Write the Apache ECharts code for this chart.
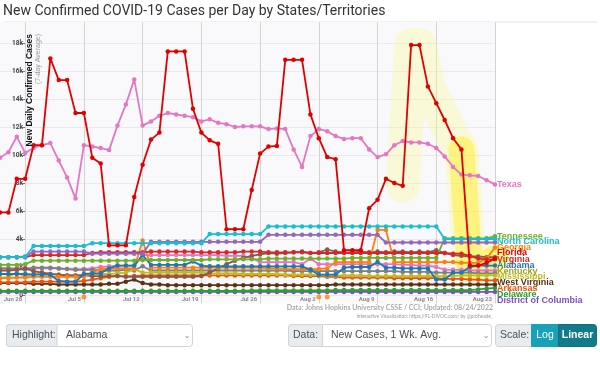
<!DOCTYPE html>
<html><head><meta charset="utf-8">
<script src="https://cdn.jsdelivr.net/npm/echarts@6/dist/echarts.min.js"></script>
<style>html,body{margin:0;padding:0;background:#fff}#c{width:600px;height:386px}</style>
</head><body><div id="c"></div>
<script>
const dates = ['Jun 25','Jun 26','Jun 27','Jun 28','Jun 29','Jun 30',
'Jul 1','Jul 2','Jul 3','Jul 4','Jul 5','Jul 6','Jul 7','Jul 8','Jul 9','Jul 10','Jul 11','Jul 12','Jul 13','Jul 14','Jul 15','Jul 16','Jul 17','Jul 18','Jul 19','Jul 20','Jul 21','Jul 22','Jul 23','Jul 24','Jul 25','Jul 26','Jul 27','Jul 28','Jul 29','Jul 30','Jul 31',
'Aug 1','Aug 2','Aug 3','Aug 4','Aug 5','Aug 6','Aug 7','Aug 8','Aug 9','Aug 10','Aug 11','Aug 12','Aug 13','Aug 14','Aug 15','Aug 16','Aug 17','Aug 18','Aug 19','Aug 20','Aug 21','Aug 22','Aug 23'];
const yTicks = [0,2,4,6,8,10,12,14,16,18];
const eventDays = ['Jul 5','Aug 2','Aug 3'];

const texas = [9.8,10.2,11.3,10.15,10.5,10.7,10.85,9.6,8.4,6.9,
 10.7,10.6,10.5,10.35,12.1,13.6,15.4,12.1,12.4,12.8,
 13.0,12.9,12.8,12.7,12.4,12.55,12.3,12.2,12.0,12.05,
 12.05,12.05,11.85,11.9,11.85,10.4,9.15,11.35,11.85,11.7,
 11.35,11.15,11.2,11.2,10.4,9.85,10.05,10.7,11.0,10.9,
 10.9,10.8,10.5,9.9,9.15,8.6,8.55,8.5,8.2,7.9];
const florida = [5.9,5.9,8.3,8.3,10.7,10.7,16.9,15.35,15.35,13.0,
 13.0,9.8,9.4,3.55,3.55,3.55,7.0,9.3,11.1,11.6,
 17.4,17.4,17.4,13.3,11.6,11.05,10.8,4.7,4.7,4.7,
 7.5,10.1,10.6,10.65,16.8,16.8,16.8,12.9,11.2,9.85,
 9.7,3.2,3.2,3.2,6.2,6.8,8.3,8.0,7.8,17.85,
 17.85,14.9,13.7,12.5,11.2,10.4,2.1,2.1,2.3,2.6];
const northCarolina = [2.7,2.7,2.7,2.7,3.5,3.5,3.5,3.5,3.5,3.5,
 3.5,3.7,3.7,3.7,3.7,3.7,3.7,3.7,3.7,3.7,
 3.7,3.7,3.7,3.7,3.7,4.35,4.35,4.35,4.35,4.35,
 4.35,4.35,4.9,4.9,4.9,4.9,4.9,4.9,4.9,4.9,
 4.9,4.9,4.9,4.9,4.9,4.9,4.9,4.9,4.9,4.9,
 4.9,4.9,4.9,4.0,4.0,4.0,4.0,4.0,4.0,4.0];
const oklahoma = [2.7,2.7,2.7,2.75,3.1,3.1,3.1,3.1,3.1,3.1,
 3.1,2.95,2.95,2.95,2.95,2.95,2.95,2.95,3.8,3.8,
 3.8,3.8,3.8,3.8,3.8,3.8,3.8,3.8,3.8,3.8,
 3.8,3.8,4.3,4.3,4.3,4.3,4.3,4.3,4.3,4.3,
 4.3,4.3,4.3,4.3,4.3,4.3,3.75,3.75,3.75,3.75,
 3.75,3.75,3.75,3.75,3.75,3.75,3.75,3.75,3.75,3.75];
const virginia = [2.7,2.7,2.7,2.7,2.85,2.85,2.85,2.85,2.85,2.85,
 2.85,3.0,3.05,3.05,3.05,3.05,3.05,3.05,3.1,3.1,
 3.1,3.1,3.1,3.1,3.05,3.05,3.05,3.05,3.05,3.1,
 3.1,3.1,3.05,3.05,3.05,3.05,3.05,3.0,3.0,3.0,
 3.0,3.0,3.0,3.0,3.0,3.0,3.0,3.0,3.0,3.0,
 3.0,3.0,3.0,3.0,2.95,2.95,2.8,2.6,2.55,2.55];
const tennessee = [2.15,2.15,2.15,2.2,2.45,2.45,2.45,2.45,2.45,2.45,
 2.45,2.45,2.45,2.45,2.45,2.45,2.45,2.5,2.5,2.5,
 2.5,2.5,2.5,2.5,2.5,2.55,2.55,2.55,2.55,2.55,
 2.55,2.55,2.6,2.6,2.6,2.6,2.6,2.6,2.6,2.6,
 2.6,2.6,2.65,2.65,2.65,2.65,2.65,2.65,2.65,2.65,
 2.65,2.65,2.65,4.05,4.05,4.05,4.05,4.05,4.05,4.2];
const alabama = [1.5,1.5,1.5,1.5,1.45,1.45,1.45,1.0,0.95,0.95,
 1.5,1.55,1.55,1.9,2.1,2.1,2.1,2.85,2.15,2.15,
 2.15,2.15,2.15,2.4,2.1,2.05,2.05,2.05,2.05,2.05,
 2.05,2.05,2.05,2.05,2.05,2.05,2.05,1.8,1.45,1.45,
 1.45,1.95,2.0,2.0,2.0,2.35,1.95,1.95,1.9,1.9,
 1.9,1.9,1.1,1.1,1.6,1.6,2.0,2.1,2.1,2.1];
const georgia = [1.2,1.2,1.25,1.25,1.3,1.3,1.3,1.3,1.3,1.3,
 1.3,1.6,1.85,1.9,1.9,1.9,1.9,3.9,1.95,1.95,
 1.95,1.95,1.95,1.95,1.95,1.95,1.95,1.95,1.95,1.95,
 1.95,1.95,1.9,1.9,1.85,1.85,1.85,1.85,1.85,1.9,
 2.35,2.35,2.35,2.35,2.35,4.65,4.65,2.35,2.35,2.35,
 2.35,2.35,2.35,2.35,2.35,2.3,2.3,2.3,2.6,3.4];
const louisiana = [1.75,1.75,1.8,1.9,1.7,1.6,1.5,1.45,1.4,1.4,
 1.4,1.35,1.35,1.35,1.35,1.3,1.3,1.3,1.3,1.3,
 1.3,1.3,1.3,1.3,1.35,1.6,1.9,2.2,2.45,2.65,
 2.8,2.9,3.0,2.95,3.0,3.05,3.1,3.0,3.05,3.25,
 3.1,3.05,3.05,3.1,3.05,3.1,3.05,3.1,3.1,3.05,
 3.1,3.05,3.2,3.0,2.85,2.8,2.75,2.75,2.7,2.7];
const mississippi = [1.2,1.3,1.6,1.3,1.5,1.6,1.5,1.45,1.4,1.4,
 1.45,1.5,1.5,1.5,1.55,1.6,1.85,1.6,1.6,1.6,
 1.6,1.6,1.6,1.6,1.6,1.55,1.55,1.55,1.55,1.5,
 1.5,1.5,1.5,1.5,1.45,1.45,1.45,1.45,1.4,1.4,
 1.4,1.4,1.4,1.4,1.35,1.35,1.35,1.35,1.35,1.35,
 1.35,1.35,1.35,1.35,1.35,1.4,1.4,1.4,1.4,1.4];
const kentucky = [1.9,1.9,1.85,1.8,1.95,1.95,1.95,1.9,1.85,1.8,
 1.8,1.8,1.75,1.75,1.75,1.8,1.75,2.05,1.75,1.75,
 1.75,1.75,1.75,1.75,1.75,1.75,1.75,1.75,1.75,1.75,
 1.75,1.75,1.75,1.75,1.75,1.7,1.7,1.7,1.7,1.7,
 1.7,1.7,1.7,1.7,1.7,1.7,1.7,1.7,1.65,1.65,
 1.65,1.65,1.6,1.6,1.6,1.6,1.6,1.55,1.55,1.55];
const maryland = [1.9,1.9,1.9,1.95,1.9,1.9,1.9,1.9,1.85,1.85,
 1.85,1.9,2.0,2.05,2.1,2.1,2.1,2.85,2.85,2.85,
 2.85,2.85,2.85,2.85,2.85,2.85,2.85,2.8,2.8,2.8,
 2.65,2.35,2.35,2.35,2.35,2.35,2.2,2.6,2.2,2.2,
 2.2,2.2,2.2,2.2,2.2,2.2,2.2,2.2,2.15,2.15,
 2.1,2.1,2.0,1.8,1.8,1.8,1.75,1.75,1.75,1.75];
const arkansas = [0.9,0.9,0.9,0.9,0.95,0.95,0.95,0.95,0.95,0.95,
 1.0,1.1,1.2,1.3,1.35,1.35,1.35,1.4,1.4,1.4,
 1.4,1.4,1.4,1.4,1.4,1.4,1.4,1.4,1.4,1.4,
 1.4,1.4,1.4,1.4,1.4,1.35,1.35,1.35,1.35,1.3,
 1.3,1.25,1.25,1.25,1.25,1.25,1.25,1.2,1.2,1.2,
 1.2,1.2,1.2,1.15,1.15,1.15,1.1,1.1,1.05,1.05];
const westVirginia = [0.85,0.85,0.85,0.85,0.8,0.8,0.8,0.75,0.75,0.75,
 0.75,0.75,0.75,0.8,0.8,0.95,1.1,0.85,0.75,0.75,
 0.7,0.7,0.7,0.7,0.7,0.7,0.7,0.7,0.7,0.7,
 0.7,0.7,0.7,0.7,0.7,0.7,0.7,0.7,0.7,0.7,
 0.75,0.75,0.75,0.75,0.75,0.75,0.75,0.75,0.75,0.75,
 0.75,0.75,0.75,0.75,0.75,0.75,0.75,0.75,0.75,0.75];
const delaware = [0.3,0.3,0.3,0.3,0.3,0.3,0.3,0.3,0.3,0.3,
 0.3,0.3,0.3,0.3,0.3,0.3,0.3,0.3,0.3,0.3,
 0.3,0.3,0.3,0.3,0.3,0.3,0.3,0.3,0.3,0.3,
 0.32,0.32,0.32,0.32,0.32,0.32,0.32,0.32,0.32,0.32,
 0.35,0.35,0.35,0.35,0.35,0.35,0.35,0.35,0.35,0.35,
 0.35,0.35,0.35,0.35,0.35,0.35,0.35,0.4,0.45,0.5];
const dc = [0.22,0.22,0.22,0.22,0.22,0.22,0.22,0.22,0.22,0.22,
 0.22,0.22,0.22,0.22,0.22,0.22,0.22,0.22,0.22,0.22,
 0.22,0.22,0.22,0.22,0.22,0.22,0.22,0.22,0.22,0.22,
 0.22,0.22,0.22,0.22,0.22,0.22,0.22,0.22,0.22,0.22,
 0.22,0.22,0.22,0.22,0.22,0.22,0.22,0.22,0.22,0.22,
 0.22,0.22,0.22,0.22,0.22,0.22,0.22,0.22,0.22,0.22];

// label nudges (px) keep the end labels stacked like the original's collision layout
const lineDefs = [
  {name:'District of Columbia', data:dc, color:'#7b4fc4', dy:9},
  {name:'Delaware', data:delaware, color:'#2ca02c', dy:7},
  {name:'West Virginia', data:westVirginia, color:'#5a3214', dy:-1.5},
  {name:'Arkansas', data:arkansas, color:'#e6550d', dy:8.7},
  {name:'Maryland', data:maryland, color:'#e377c2', label:false},
  {name:'Kentucky', data:kentucky, color:'#7f7f7f', labelColor:'#a6a11e', dy:-1.3},
  {name:'Mississippi', data:mississippi, color:'#bcbd22', dy:1.6},
  {name:'Louisiana', data:louisiana, color:'#8c564b', label:false},
  {name:'Georgia', data:georgia, color:'#ff7f0e', dy:0.6},
  {name:'Alabama', data:alabama, color:'#1f77b4', dy:0.4},
  {name:'Tennessee', data:tennessee, color:'#6fb02a', dy:0},
  {name:'Virginia', data:virginia, color:'#d62728', dy:0},
  {name:'Oklahoma', data:oklahoma, color:'#9467bd', label:false},
  {name:'North Carolina', data:northCarolina, color:'#17becf', dy:3},
  {name:'Texas', data:texas, color:'#e377c2', dy:0},
  {name:'Florida', data:florida, color:'#e00000', dy:-5.6}
];

const weekly = (i) => (i - 3) % 7 === 0;
const flTail = florida.map((v, i) => i >= 48 ? v : null);
const flDrop = florida.map((v, i) => i >= 55 ? v : null);

const series = [
  {type:'line', name:'hl1', data:flTail, symbol:'none', silent:true, z:1,
   lineStyle:{width:34, color:'rgba(255,252,120,0.28)', cap:'round', join:'round'}},
  {type:'line', name:'hl2', data:flDrop, symbol:'none', silent:true, z:1,
   lineStyle:{width:26, color:'rgba(255,240,40,0.5)', cap:'round', join:'round'}}
];
lineDefs.forEach((s, k) => {
  series.push({
    type:'line', name:s.name, data:s.data, symbol:'circle', symbolSize:4.5, z:2 + k * 0.01,
    lineStyle:{width:1.8, color:s.color}, itemStyle:{color:s.color},
    endLabel:{show:s.label !== false, formatter:() => s.name, color:s.labelColor || s.color,
      fontWeight:'bold', fontSize:9, fontFamily:'Liberation Sans', distance:2, offset:[0, s.dy || 0]},
    emphasis:{disabled:true}
  });
});
series.push({type:'scatter', name:'events', data:eventDays.map(d => [d, -0.15]),
  symbolSize:5, itemStyle:{color:'#ff7f0e'}, z:3, silent:true});

const chart = echarts.init(document.getElementById('c'), null, {renderer:'canvas'});
chart.setOption({
  animation:false,
  backgroundColor:'#fff',
  grid:{left:0, right:105, top:22, bottom:82.6, show:true, backgroundColor:'#f9f9fc', borderWidth:0},
  xAxis:{type:'category', data:dates, boundaryGap:false,
    axisLine:{show:false}, axisTick:{show:false},
    axisLabel:{inside:true, interval:weekly, align:'right', margin:1, fontSize:6, fontWeight:'bold',
      color:'#8a8a8a', fontFamily:'Roboto', padding:[0,3,0,0]},
    splitLine:{show:true, interval:weekly, lineStyle:{color:'#d4d4d4', width:1}}},
  yAxis:{type:'value', min:-0.6, max:19.5, offset:-25,
    axisLine:{show:false},
    axisTick:{show:true, length:3, customValues:yTicks, lineStyle:{color:'#777'}},
    axisLabel:{customValues:yTicks, formatter:v => v === 0 ? '0' : v + 'k', fontSize:6.5, fontWeight:'bold',
      color:'#444', margin:2, fontFamily:'Roboto'},
    splitLine:{show:true, lineStyle:{color:'#e8e8ee'}}},
  series:series,
  graphic:[
    {type:'line', shape:{x1:3, y1:22, x2:597, y2:22}, style:{stroke:'#e2e2e2', lineWidth:1}, z:-1},
    {type:'text', x:3, y:11, style:{text:'New Confirmed COVID-19 Cases per Day by States/Territories',
      fontSize:14, fontFamily:'Roboto', fill:'#333', textVerticalAlign:'middle'}},
    {type:'text', x:30, y:34, rotation:Math.PI/2, z:10, style:{text:'New Daily Confirmed Cases',
      fontSize:8.5, fontWeight:'bold', fontFamily:'Liberation Sans', fill:'#111', textAlign:'right', textVerticalAlign:'middle'}},
    {type:'text', x:38.5, y:34, rotation:Math.PI/2, z:10, style:{text:'(7-day Average)',
      fontSize:7, fontFamily:'Liberation Sans', fill:'#9a9a9a', textAlign:'right', textVerticalAlign:'middle'}},
    {type:'text', x:493, y:308, style:{text:'Data: Johns Hopkins University CSSE / CCI; Updated: 08/24/2022',
      fontSize:7, fontWeight:'bold', fontFamily:'Lato', fill:'#ababab', textAlign:'right', textVerticalAlign:'middle'}},
    {type:'text', x:493, y:316, style:{text:'Interactive Visualization: https://91-DIVOC.com/ by @profwade_',
      fontSize:4.8, fontFamily:'Lato', fill:'#999', textAlign:'right', textVerticalAlign:'middle'}},
    {type:'rect', shape:{x:6.5, y:324.5, width:186, height:22, r:3}, style:{fill:'#fff', stroke:'#ced4da', lineWidth:1}},
    {type:'rect', shape:{x:6.5, y:324.5, width:50.5, height:22, r:[3,0,0,3]}, style:{fill:'#e9ecef', stroke:'#ced4da', lineWidth:1}},
    {type:'text', x:12, y:335.5, style:{text:'Highlight:', fontSize:10.5, fontFamily:'Liberation Sans', fill:'#495057', textVerticalAlign:'middle'}},
    {type:'text', x:66, y:335.5, style:{text:'Alabama', fontSize:10.5, fontFamily:'Liberation Sans', fill:'#495057', textVerticalAlign:'middle'}},
    {type:'text', x:187, y:335.5, style:{text:'\u2304', fontSize:8, fontFamily:'DejaVu Sans', fill:'#888', textAlign:'center', textVerticalAlign:'middle'}},
    {type:'rect', shape:{x:288.5, y:324.5, width:203, height:22, r:3}, style:{fill:'#fff', stroke:'#ced4da', lineWidth:1}},
    {type:'rect', shape:{x:288.5, y:324.5, width:34, height:22, r:[3,0,0,3]}, style:{fill:'#e9ecef', stroke:'#ced4da', lineWidth:1}},
    {type:'text', x:293, y:335.5, style:{text:'Data:', fontSize:10.5, fontFamily:'Liberation Sans', fill:'#495057', textVerticalAlign:'middle'}},
    {type:'text', x:331, y:335.5, style:{text:'New Cases, 1 Wk. Avg.', fontSize:10.5, fontFamily:'Liberation Sans', fill:'#495057', textVerticalAlign:'middle'}},
    {type:'text', x:486, y:335.5, style:{text:'\u2304', fontSize:8, fontFamily:'DejaVu Sans', fill:'#888', textAlign:'center', textVerticalAlign:'middle'}},
    {type:'rect', shape:{x:495.5, y:324.5, width:36, height:22, r:[3,0,0,3]}, style:{fill:'#e9ecef', stroke:'#ced4da', lineWidth:1}},
    {type:'text', x:500, y:335.5, style:{text:'Scale:', fontSize:10.5, fontFamily:'Liberation Sans', fill:'#495057', textVerticalAlign:'middle'}},
    {type:'rect', shape:{x:531.5, y:324.5, width:27, height:22}, style:{fill:'#17a2b8', stroke:'#17a2b8', lineWidth:1}},
    {type:'text', x:545, y:335.5, style:{text:'Log', fontSize:10.5, fontFamily:'Liberation Sans', fill:'#fff', textAlign:'center', textVerticalAlign:'middle'}},
    {type:'rect', shape:{x:558.5, y:324.5, width:38, height:22, r:[0,3,3,0]}, style:{fill:'#117a8b', stroke:'#10707f', lineWidth:1}},
    {type:'text', x:577.5, y:335.5, style:{text:'Linear', fontSize:10.5, fontWeight:'bold', fontFamily:'Liberation Sans', fill:'#fff', textAlign:'center', textVerticalAlign:'middle'}}
  ]
});
</script>
</body></html>
